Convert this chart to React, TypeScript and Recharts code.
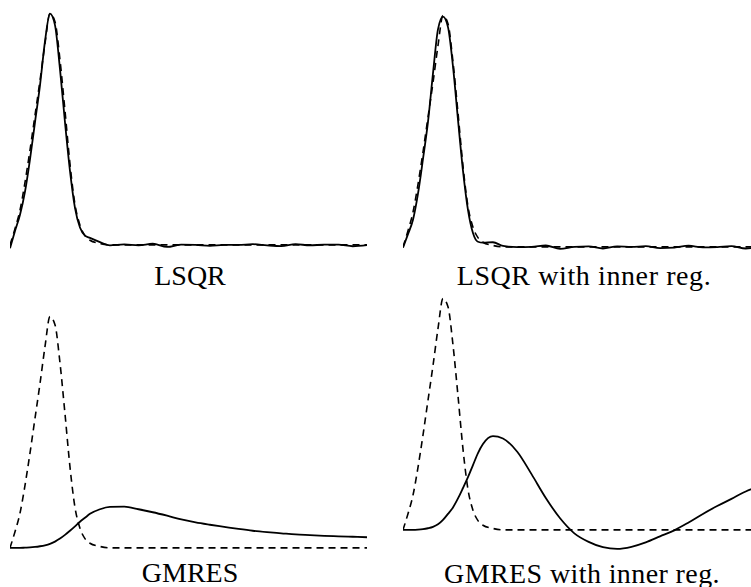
import { LineChart, Line, XAxis, YAxis } from "recharts";

// sample positions along the interval (0 = left end, 1 = right end)
const xs = [
  0, 0.014, 0.028, 0.042, 0.056, 0.07, 0.084, 0.098, 0.112, 0.126, 0.14,
  0.154, 0.168, 0.182, 0.196, 0.21, 0.224, 0.252, 0.28, 0.32, 0.36, 0.4,
  0.44, 0.48, 0.52, 0.56, 0.6, 0.64, 0.68, 0.72, 0.76, 0.8, 0.84, 0.88,
  0.92, 0.96, 1.0,
];

// exact solution (dashed)
const exact = [
  0, 0.07, 0.15, 0.27, 0.41, 0.56, 0.71, 0.87, 1.0, 0.965, 0.8, 0.58, 0.35,
  0.175, 0.085, 0.04, 0.02, 0.006, 0, 0, 0, 0, 0, 0, 0, 0, 0, 0, 0, 0, 0, 0,
  0, 0, 0, 0, 0,
];

// reconstructions (solid)
const lsqr = [
  -0.015, 0.06, 0.13, 0.23, 0.37, 0.53, 0.69, 0.88, 1.0, 0.95, 0.76, 0.53,
  0.32, 0.16, 0.075, 0.04, 0.03, 0.012, -0.002, 0.002, -0.002, 0.005, -0.009,
  0.001, 0, -0.004, 0, 0, 0.003, -0.002, -0.005, 0.003, -0.002, 0.001, 0.001,
  -0.006, -0.001,
];

const lsqrReg = [
  -0.004, 0.055, 0.117, 0.23, 0.38, 0.54, 0.75, 0.94, 0.995, 0.95, 0.78, 0.55,
  0.33, 0.16, 0.06, 0.022, 0.018, 0.02, 0.004, -0.001, 0, 0.006, -0.009, 0,
  0.002, -0.007, 0.002, 0, 0.003, -0.005, -0.003, 0.005, -0.002, -0.001,
  0.003, -0.007, 0.001,
];

const gmres = [
  0, 0, 0, 0.001, 0.002, 0.004, 0.007, 0.011, 0.017, 0.027, 0.04, 0.056,
  0.074, 0.093, 0.113, 0.13, 0.147, 0.167, 0.177, 0.178, 0.167, 0.154, 0.139,
  0.123, 0.11, 0.1, 0.091, 0.082, 0.074, 0.068, 0.063, 0.058, 0.055, 0.052,
  0.05, 0.048, 0.046,
];

const gmresReg = [
  0, 0, 0, 0.001, 0.003, 0.007, 0.013, 0.024, 0.043, 0.069, 0.097, 0.136,
  0.181, 0.228, 0.28, 0.332, 0.371, 0.405, 0.395, 0.338, 0.241, 0.138, 0.05,
  -0.015, -0.052, -0.075, -0.082, -0.073, -0.054, -0.028, -0.002, 0.032,
  0.069, 0.103, 0.134, 0.166, 0.19,
];

const titles = ["LSQR", "LSQR with inner reg.", "GMRES", "GMRES with inner reg."];

const rows = xs.map((x, i) => ({
  x,
  exact: exact[i],
  lsqr: lsqr[i],
  lsqrReg: lsqrReg[i],
  gmres: gmres[i],
  gmresReg: gmresReg[i],
}));

const font = '"Liberation Serif", "Times New Roman", serif';

function Panel({ dataKey, left, top }: { dataKey: string; left: number; top: number }) {
  return (
    <div style={{ position: "absolute", left, top }}>
      <LineChart
        width={357}
        height={266}
        data={rows}
        margin={{ top: 0, right: 0, bottom: 0, left: 0 }}
      >
        <XAxis dataKey="x" type="number" domain={[0, 1]} hide />
        <YAxis type="number" domain={[-0.1, 1.05]} hide />
        <Line
          type="monotone"
          dataKey="exact"
          stroke="#000"
          strokeWidth={1.6}
          strokeDasharray="7 5"
          dot={false}
          activeDot={false}
          isAnimationActive={false}
        />
        <Line
          type="monotone"
          dataKey={dataKey}
          stroke="#000"
          strokeWidth={1.8}
          dot={false}
          activeDot={false}
          isAnimationActive={false}
        />
      </LineChart>
    </div>
  );
}

function Label({ text, center, top, spacing }: { text: string; center: number; top: number; spacing: number }) {
  return (
    <div
      style={{
        position: "absolute",
        left: center - 200,
        top,
        width: 400,
        textAlign: "center",
        fontFamily: font,
        fontSize: 28,
        lineHeight: "28px",
        letterSpacing: spacing,
        whiteSpace: "nowrap",
        color: "#000",
      }}
    >
      {text}
    </div>
  );
}

export default function App() {
  return (
    <div
      style={{
        position: "absolute",
        left: 0,
        top: 0,
        width: 751,
        height: 587,
        overflow: "hidden",
        background: "#fff",
      }}
    >
      <Panel dataKey="lsqr" left={10} top={2} />
      <Panel dataKey="lsqrReg" left={403} top={4} />
      <Panel dataKey="gmres" left={10} top={305} />
      <Panel dataKey="gmresReg" left={403} top={287} />
      <Label text={titles[0]} center={190} top={262} spacing={0} />
      <Label text={titles[1]} center={584} top={262} spacing={0.6} />
      <Label text={titles[2]} center={190} top={559} spacing={0} />
      <Label text={titles[3]} center={582} top={560} spacing={0.4} />
    </div>
  );
}
